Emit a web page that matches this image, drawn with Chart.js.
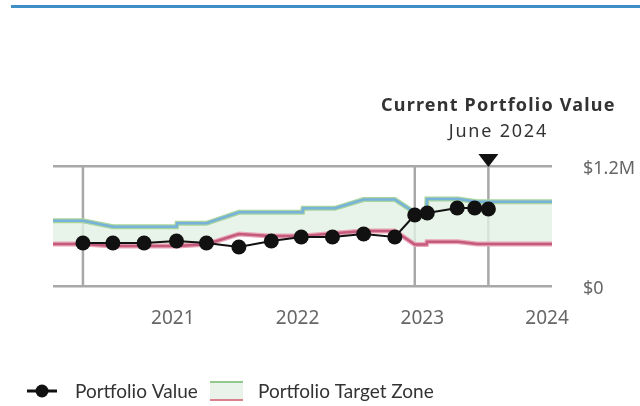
<!DOCTYPE html>
<html>
<head>
<meta charset="utf-8">
<script src="https://cdn.jsdelivr.net/npm/chart.js@4"></script>
<style>
  html, body { margin: 0; padding: 0; background: #fff; }
  #wrap { position: relative; width: 640px; height: 406px; }
  #topbar { position: absolute; left: 11px; top: 5px; width: 629px; height: 3px; background: #3d8fc6; }
</style>
</head>
<body>
<div id="wrap">
  <div id="topbar"></div>
  <canvas id="myChart" width="640" height="406"></canvas>
</div>
<script>
// values in thousands of dollars, dates as decimal years
const portfolioDates = [2021.22, 2021.46, 2021.71, 2021.97, 2022.21, 2022.47, 2022.73, 2022.97, 2023.22, 2023.47, 2023.72, 2023.88, 2023.98, 2024.22, 2024.36, 2024.47];
const portfolioValues = [430, 430, 430, 450, 430, 390, 450, 490, 490, 520, 490, 710, 730, 780, 780, 770];

const bandDates = [2020.98, 2021.22, 2021.46, 2021.97, 2021.975, 2022.21, 2022.47, 2022.72, 2022.98, 2022.985, 2023.24, 2023.47, 2023.72, 2023.88, 2023.974, 2023.978, 2024.227, 2024.38, 2024.98];
const targetHigh = [653, 653, 593, 593, 627, 627, 737, 737, 737, 777, 777, 865, 865, 735, 740, 870, 870, 843, 843];
const targetLow = [420, 420, 400, 400, 400, 417, 520, 500, 500, 500, 527, 550, 550, 415, 415, 443, 443, 420, 420];

const yearLabels = [2021, 2022, 2023, 2024];
const markerDates = [2021.22, 2023.88, 2024.47];
const currentDate = 2024.47;
const currentTitle = 'Current Portfolio Value';
const currentSub = 'June 2024';
const legendNames = ['Portfolio Value', 'Portfolio Target Zone'];

const FONT = '"Noto Sans", sans-serif';
const LFONT = 'Lato, sans-serif';

const pts = (xs, ys) => xs.map((x, i) => ({x: x, y: ys[i]}));

const markers = {
	id: 'markers',
	beforeDatasetsDraw(chart) {
		const {ctx, chartArea, scales} = chart;
		ctx.save();
		ctx.strokeStyle = '#a8a8a8';
		ctx.lineWidth = 2.5;
		markerDates.forEach(d => {
			const x = scales.x.getPixelForValue(d);
			ctx.beginPath();
			ctx.moveTo(x, chartArea.top);
			ctx.lineTo(x, chartArea.bottom);
			ctx.stroke();
		});
		ctx.restore();
	},
	afterDraw(chart) {
		const {ctx, chartArea, scales} = chart;
		const x = scales.x.getPixelForValue(currentDate);
		ctx.save();
		// triangle
		ctx.fillStyle = '#111';
		ctx.beginPath();
		ctx.moveTo(x - 10, chartArea.top - 12);
		ctx.lineTo(x + 10, chartArea.top - 12);
		ctx.lineTo(x, chartArea.top + 1);
		ctx.closePath();
		ctx.fill();
		// annotation
		ctx.fillStyle = '#333';
		ctx.textAlign = 'center';
		ctx.textBaseline = 'middle';
		ctx.letterSpacing = '1.2px';
		ctx.font = 'bold 18px ' + FONT;
		ctx.fillText(currentTitle, x + 10, 106);
		ctx.letterSpacing = '1.8px';
		ctx.font = '18px ' + FONT;
		ctx.fillText(currentSub, x + 10, 132);
		ctx.letterSpacing = '0px';

		// legend
		const ly = 391;
		ctx.strokeStyle = '#111';
		ctx.lineWidth = 3;
		ctx.beginPath();
		ctx.moveTo(27, ly);
		ctx.lineTo(57, ly);
		ctx.stroke();
		ctx.fillStyle = '#111';
		ctx.beginPath();
		ctx.arc(42, ly, 6.5, 0, Math.PI * 2);
		ctx.fill();

		ctx.fillStyle = '#e9f3ea';
		ctx.fillRect(210, 382, 33, 18);
		ctx.fillStyle = '#93c98c';
		ctx.fillRect(210, 381, 33, 2);
		ctx.fillStyle = '#d9828c';
		ctx.fillRect(210, 399, 33, 2);

		ctx.fillStyle = '#333';
		ctx.textAlign = 'left';
		ctx.font = '19px ' + LFONT;
		ctx.fillText(legendNames[0], 75, ly + 1);
		ctx.fillText(legendNames[1], 258, ly + 1);
		ctx.restore();
	}
};

const ctx = document.getElementById('myChart').getContext('2d');

const myChart = new Chart(ctx, {
	type: 'line',
	data: {
		datasets: [{
			label: legendNames[0],
			data: pts(portfolioDates, portfolioValues),
			borderColor: '#111',
			backgroundColor: '#111',
			borderWidth: 2,
			pointRadius: 7.5,
			pointHoverRadius: 7.5,
			pointBorderWidth: 0,
			order: 0
		}, {
			label: 'high halo',
			data: pts(bandDates, targetHigh),
			borderColor: '#a9d49d',
			backgroundColor: 'rgba(226, 240, 227, 0.8)',
			borderWidth: 5,
			pointRadius: 0,
			fill: '+2',
			order: 4
		}, {
			label: 'high',
			data: pts(bandDates, targetHigh),
			borderColor: '#76b2da',
			borderWidth: 2.5,
			pointRadius: 0,
			order: 2
		}, {
			label: 'low halo',
			data: pts(bandDates, targetLow),
			borderColor: '#eaa7b6',
			borderWidth: 5,
			pointRadius: 0,
			order: 3
		}, {
			label: 'low',
			data: pts(bandDates, targetLow),
			borderColor: '#c45a7e',
			borderWidth: 2.5,
			pointRadius: 0,
			order: 1
		}]
	},
	options: {
		responsive: false,
		animation: false,
		layout: { padding: { top: 166, left: 53, right: 0, bottom: 0 } },
		plugins: {
			legend: { display: false },
			tooltip: { enabled: false }
		},
		scales: {
			x: {
				type: 'linear',
				min: 2020.98,
				max: 2024.98,
				grid: { display: false },
				border: { display: false },
				afterBuildTicks: s => { s.ticks = yearLabels.map(y => ({value: y + 0.94})); },
				afterFit: s => { s.height = 120; },
				ticks: {
					color: '#666',
					font: { family: FONT, size: 19 },
					padding: 13,
					maxRotation: 0,
					callback: v => String(Math.floor(v))
				}
			},
			y: {
				position: 'right',
				min: 0,
				max: 1200,
				afterBuildTicks: s => { s.ticks = [{value: 0}, {value: 1200}]; },
				afterFit: s => { s.width = 88; },
				grid: { color: '#a8a8a8', lineWidth: 2.5, drawTicks: false },
				border: { display: false },
				ticks: {
					color: '#666',
					font: { family: FONT, size: 18 },
					padding: 31,
					labelOffset: 3,
					callback: v => v === 0 ? '$0' : '$1.2M'
				}
			}
		}
	},
	plugins: [markers]
});
</script>
</body>
</html>
